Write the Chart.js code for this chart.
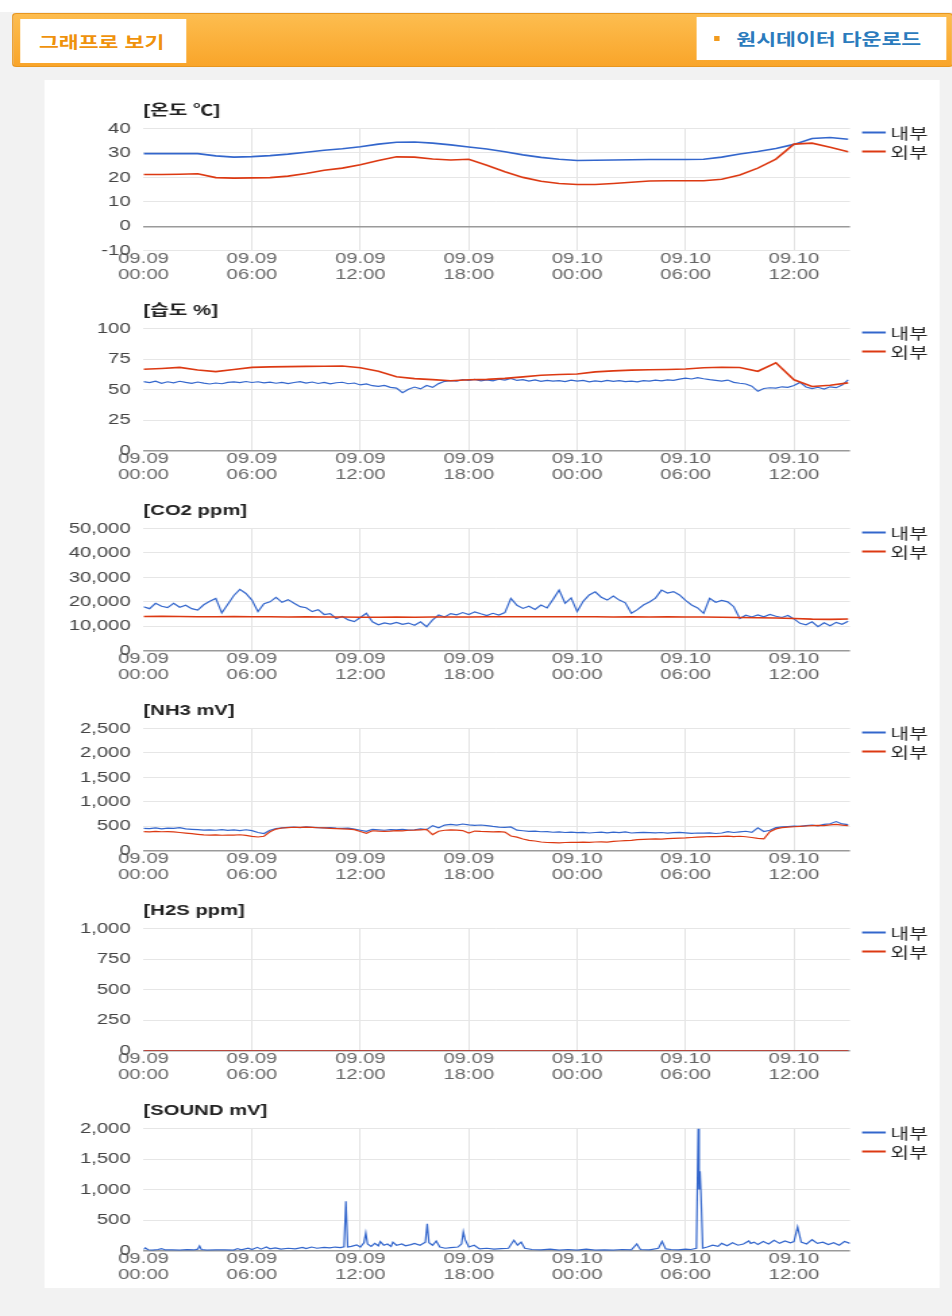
<!DOCTYPE html>
<html lang="ko">
<head>
<meta charset="utf-8">
<title>축사 환경 그래프</title>
<script src="https://cdn.jsdelivr.net/npm/chart.js@4.4.1/dist/chart.umd.min.js"></script>
<style>
  html, body { margin: 0; padding: 0; }
  body { width: 952px; height: 1316px; background: #f2f2f2; overflow: hidden;
         font-family: 'Liberation Sans', Arial, 'Noto Sans CJK KR', sans-serif; }
  /* the whole sheet is laid out narrow and widened horizontally */
  #page { position: absolute; left: 0; top: 0; width: 705.2px; height: 1316px;
          transform: scaleX(1.35); transform-origin: 0 0; }
  .topstrip { position: absolute; left: 0; top: 0; width: 100%; height: 12px; background: #fff; }
  .bar { position: absolute; left: 8.9px; top: 13px; width: 697px; height: 54px; box-sizing: border-box;
         background: linear-gradient(#fdbd4f, #f9a52a); border: 1px solid #e8961f; border-radius: 3px; }
  .tab { position: absolute; background: #fff; font-weight: bold; font-size: 16px; box-sizing: border-box;
         white-space: nowrap; font-family: 'Noto Sans CJK KR', sans-serif; }
  .tab.left { left: 5px; top: 5px; width: 123px; height: 44px; line-height: 44px; padding-left: 14px; color: #ef920c; }
  .tab.right { left: 506.5px; top: 3px; width: 185px; height: 43px; line-height: 43px; padding-left: 29px; color: #2b7bbd; }
  .bullet { position: absolute; left: 13px; top: 19px; width: 4px; height: 5px; background: #f29b1d; }
  .panel { position: absolute; left: 32.6px; top: 80px; width: 663.7px; height: 1208px; background: #fff; }
  canvas.chart { position: absolute; left: 33px; }
</style>
</head>
<body>
<div id="page">
  <div class="topstrip"></div>
  <div class="bar">
    <div class="tab left">그래프로 보기</div>
    <div class="tab right"><span class="bullet"></span>원시데이터 다운로드</div>
  </div>
  <div class="panel"></div>
  <canvas class="chart" id="chartTemp" width="664" height="200" style="top:88px"></canvas>
  <canvas class="chart" id="chartHum" width="664" height="200" style="top:288px"></canvas>
  <canvas class="chart" id="chartCo2" width="664" height="200" style="top:488px"></canvas>
  <canvas class="chart" id="chartNh3" width="664" height="200" style="top:688px"></canvas>
  <canvas class="chart" id="chartH2s" width="664" height="200" style="top:888px"></canvas>
  <canvas class="chart" id="chartSound" width="664" height="200" style="top:1088px"></canvas>
</div>

<script>
// ---- time axis (hours since 09.09 00:00) ----
const X_MAX_H = 39.1;
const TIME_TICKS = [0, 6, 12, 18, 24, 30, 36];
const TIME_TICK_LABELS = [
  ['09.09', '00:00'], ['09.09', '06:00'], ['09.09', '12:00'], ['09.09', '18:00'],
  ['09.10', '00:00'], ['09.10', '06:00'], ['09.10', '12:00']
];
const HOURLY_STEP_H = 1;      // one reading per hour
const FINE_STEP_H = 1 / 3;    // one reading every 20 minutes

const SERIES_NAMES = ['내부', '외부'];
const LINE_COLORS = ['#3366cc', '#dc3912'];

// ---- temperature (℃), hourly ----
const TEMP_IN = [29.7, 29.7, 29.8, 29.7, 28.8, 28.3, 28.5, 28.9, 29.5, 30.3,
                 31.1, 31.7, 32.5, 33.6, 34.4, 34.5, 34.0, 33.3, 32.4, 31.6,
                 30.5, 29.2, 28.2, 27.4, 26.9, 27.0, 27.1, 27.2, 27.3, 27.3,
                 27.3, 27.4, 28.3, 29.6, 30.6, 31.8, 33.5, 35.9, 36.3, 35.6];
const TEMP_OUT = [21.2, 21.2, 21.3, 21.5, 19.9, 19.7, 19.8, 19.9, 20.5, 21.6,
                  22.9, 23.8, 25.2, 26.9, 28.4, 28.3, 27.5, 27.1, 27.4, 25.0,
                  22.3, 20.0, 18.4, 17.5, 17.1, 17.1, 17.5, 18.0, 18.5, 18.6,
                  18.6, 18.6, 19.2, 21.0, 23.8, 27.5, 33.6, 34.0, 32.3, 30.5];

// ---- humidity (%) ----
const HUM_IN = [ // 20-minute readings
  56.5, 55.8, 56.9, 55.2, 56.4, 55.6, 56.8, 55.9, 55.1, 56.2, 55.3, 54.6,
  55.4, 54.8, 55.9, 56.3, 55.7, 56.6, 55.8, 56.4, 55.5, 56.1, 55.2, 55.9,
  54.9, 55.8, 56.5, 55.3, 56.2, 55.0, 55.9, 54.7, 55.6, 56.0, 54.8, 55.4,
  53.8, 54.6, 53.2, 52.6, 53.4, 51.8, 51.2, 47.4, 50.3, 52.1, 50.6, 53.4,
  51.8, 54.9, 56.8, 57.4, 56.9, 58.1, 57.6, 58.3, 57.2, 58.0, 57.1, 58.6,
  57.8, 59.1, 57.5, 58.2, 57.0, 57.9, 56.8, 57.6, 56.9, 57.4, 56.6, 57.8,
  56.9, 57.5, 56.4, 57.2, 56.5, 57.6, 56.8, 57.3, 56.6, 57.0, 56.3, 57.4,
  56.9, 57.7, 57.1, 58.0, 57.5, 58.6, 59.4, 58.7, 59.8, 58.9, 58.2, 57.6,
  56.9, 57.8, 55.9, 55.2, 54.6, 52.8, 48.6, 50.9, 51.5, 51.2, 52.3, 51.8,
  53.4, 55.9, 52.1, 50.8, 51.9, 50.5, 52.3, 51.6, 53.8, 57.9];
const HUM_OUT = [66.6, 67.3, 68.2, 66.0, 64.7, 66.5, 68.2, 68.6, 68.8, 69.0,
                 69.1, 69.3, 67.9, 65.0, 60.5, 59.0, 58.2, 57.3, 58.0, 58.4,
                 59.2, 60.4, 61.8, 62.3, 62.8, 64.5, 65.3, 65.9, 66.2, 66.4,
                 66.8, 67.9, 68.3, 68.1, 65.0, 72.0, 58.0, 52.5, 53.5, 55.5];

// ---- CO2 (ppm) ----
const CO2_IN = [ // 20-minute readings
  18000, 17200, 19400, 18200, 17600, 19400, 17800, 18600, 17200, 16600, 18800, 20200,
  21400, 15500, 19000, 22600, 25100, 23400, 20700, 16000, 19200, 20000, 21800, 19800,
  20900, 19400, 18000, 17600, 16000, 16800, 14800, 15200, 13200, 14000, 12600, 11900,
  13600, 15300, 11800, 10600, 11400, 10900, 11600, 10800, 11300, 10400, 11800, 9800,
  12600, 14600, 13800, 15200, 14700, 15600, 14800, 15900, 15100, 14400, 15300, 14600,
  15600, 21400, 18600, 17300, 18200, 16900, 18700, 17500, 21000, 24800, 19400, 21600,
  16000, 20200, 22800, 24100, 21900, 20700, 22400, 20700, 19600, 15300, 16800, 18700,
  19900, 21500, 24800, 23600, 24200, 22800, 20600, 18700, 17500, 15300, 21400, 19800,
  20600, 20000, 18000, 13200, 14500, 13800, 14600, 13900, 14800, 14100, 13600, 14400,
  13000, 11200, 10600, 11800, 9800, 11400, 10200, 11600, 10800, 12000];
const CO2_OUT = [14000, 14100, 14000, 13900, 13900, 14000, 13900, 13900, 13800, 13900,
                 13800, 13800, 13700, 13700, 13800, 13700, 13800, 13800, 13800, 13900,
                 13900, 13900, 13900, 13900, 13900, 13900, 13800, 13900, 13800, 13900,
                 13800, 13800, 13700, 13600, 13500, 13400, 13200, 12900, 12800, 13000];

// ---- NH3 (mV), 20-minute readings ----
const NH3_IN = [
  458, 452, 466, 448, 460, 455, 470, 446, 438, 432, 421, 426,
  418, 430, 415, 424, 412, 428, 410, 372, 352, 418, 452, 468,
  476, 482, 474, 486, 479, 472, 468, 474, 462, 455, 461, 440,
  418, 395, 436, 428, 418, 432, 425, 436, 420, 428, 445, 432,
  512, 468, 524, 538, 522, 546, 530, 518, 526, 512, 496, 484,
  478, 486, 420, 408, 395, 402, 388, 392, 378, 385, 372, 380,
  368, 374, 362, 372, 378, 365, 380, 370, 384, 362, 368, 375,
  370, 364, 372, 360, 368, 374, 365, 356, 362, 358, 366, 352,
  362, 388, 372, 384, 398, 376, 468, 392, 418, 472, 486, 495,
  502, 498, 512, 526, 508, 538, 552, 596, 548, 535];
const NH3_OUT = [
  392, 386, 395, 388, 392, 384, 372, 360, 348, 334, 322, 318,
  325, 316, 321, 318, 326, 314, 292, 280, 296, 388, 442, 465,
  472, 480, 476, 482, 478, 470, 466, 458, 452, 448, 442, 430,
  392, 356, 408, 400, 395, 402, 412, 405, 418, 420, 428, 435,
  330, 398, 418, 428, 420, 412, 362, 402, 395, 392, 386, 390,
  380, 300, 278, 240, 212, 198, 178, 168, 165, 162, 168, 170,
  172, 176, 170, 178, 182, 176, 190, 198, 205, 212, 225, 232,
  238, 242, 236, 248, 252, 258, 262, 270, 278, 284, 290, 286,
  292, 298, 288, 296, 286, 270, 252, 242, 388, 446, 472, 482,
  490, 498, 505, 512, 520, 515, 528, 540, 522, 512];

// ---- H2S (ppm), hourly ----
const H2S_IN = [0, 0, 0, 0, 0, 0, 0, 0, 0, 0, 0, 0, 0, 0, 0, 0, 0, 0, 0, 0,
                0, 0, 0, 0, 0, 0, 0, 0, 0, 0, 0, 0, 0, 0, 0, 0, 0, 0, 0, 0];
const H2S_OUT = [0, 0, 0, 0, 0, 0, 0, 0, 0, 0, 0, 0, 0, 0, 0, 0, 0, 0, 0, 0,
                 0, 0, 0, 0, 0, 0, 0, 0, 0, 0, 0, 0, 0, 0, 0, 0, 0, 0, 0, 0];

// ---- SOUND (mV), irregular readings ----
const SOUND_T = [
  0, 0.1, 0.25, 0.5, 0.8, 1.0, 1.2, 1.6, 2.0, 2.4, 2.8, 3.0, 3.1, 3.2, 3.5, 4.0, 4.5, 5.0, 5.2, 5.4,
  5.8, 6.0, 6.3, 6.5, 6.8, 7.0, 7.3, 7.6, 8.0, 8.4, 8.8, 9.0, 9.3, 9.6, 10.0, 10.3, 10.6, 10.9, 11.1, 11.2,
  11.3, 11.5, 11.8, 12.0, 12.2, 12.3, 12.4, 12.6, 12.8, 13.0, 13.1, 13.3, 13.5, 13.7, 13.8, 14.0, 14.3, 14.5, 14.8, 15.0,
  15.3, 15.6, 15.7, 15.8, 16.0, 16.2, 16.4, 16.7, 17.0, 17.4, 17.6, 17.7, 17.8, 18.0, 18.3, 18.6, 19.0, 19.4, 19.8, 20.2,
  20.5, 20.7, 20.9, 21.1, 21.5, 22.0, 22.5, 23.0, 23.5, 24.0, 24.5, 25.0, 25.5, 26.0, 26.5, 27.0, 27.3, 27.5, 28.0, 28.5,
  28.7, 28.9, 29.2, 29.6, 30.0, 30.3, 30.6, 30.7, 30.75, 30.8, 30.85, 30.95, 31.2, 31.5, 31.8, 32.0, 32.3, 32.6, 32.9, 33.2,
  33.5, 33.6, 33.8, 34.0, 34.3, 34.6, 34.9, 35.2, 35.5, 35.8, 36.0, 36.2, 36.4, 36.7, 37.0, 37.3, 37.6, 37.9, 38.2, 38.5,
  38.8, 39.1];
const SOUND_IN = [
  20, 45, 15, 10, 20, 35, 12, 15, 10, 18, 12, 25, 80, 20, 10, 12, 15, 10, 35, 15,
  40, 20, 55, 25, 60, 30, 45, 25, 40, 30, 55, 35, 60, 40, 55, 45, 60, 50, 65, 810,
  60, 70, 95, 60, 130, 290, 110, 70, 120, 80, 150, 90, 110, 70, 140, 90, 110, 80, 100, 120,
  90, 140, 440, 130, 90, 160, 60, 40, 50, 60, 110, 310, 180, 60, 90, 30, 40, 25, 35, 40,
  170, 90, 140, 40, 20, 15, 25, 10, 20, 10, 25, 10, 15, 10, 20, 15, 110, 20, 15, 40,
  150, 30, 20, 15, 25, 20, 40, 2000, 1000, 1300, 950, 40, 60, 90, 70, 120, 80, 130, 90, 110,
  160, 120, 140, 100, 150, 110, 170, 120, 160, 130, 150, 390, 140, 110, 180, 120, 140, 100, 130, 90,
  150, 120];
const SOUND_OUT = [];

// ---- helpers that turn readings into points ----
function stepPoints(values, stepH) {
  return values.map((v, i) => ({ x: i * stepH, y: v }));
}
function timedPoints(times, values) {
  return times.map((t, i) => ({ x: t, y: values[i] }));
}

// ---- legend drawn at the right of the plot ----
const sideLegend = {
  id: 'sideLegend',
  afterDraw(chart) {
    const { ctx, chartArea } = chart;
    ctx.save();
    chart.data.datasets.forEach((ds, i) => {
      const y = chartArea.top + 4 + i * 19;
      const x0 = chartArea.right + 9;
      ctx.strokeStyle = ds.borderColor;
      ctx.lineWidth = 2;
      ctx.beginPath();
      ctx.moveTo(x0, y);
      ctx.lineTo(x0 + 17.5, y);
      ctx.stroke();
      ctx.fillStyle = '#222';
      ctx.font = "15px 'Noto Sans CJK KR', sans-serif";
      ctx.textBaseline = 'middle';
      ctx.textAlign = 'left';
      ctx.fillText(ds.label, x0 + 21, y + 1);
    });
    ctx.restore();
  }
};

Chart.defaults.font.family = "'Liberation Sans', Arial, 'Noto Sans CJK KR', sans-serif";

function makeChart(canvasId, title, yMin, yMax, yStep, series) {
  const datasets = series.map((s, i) => ({
    label: SERIES_NAMES[i],
    data: s.points,
    borderColor: LINE_COLORS[i],
    backgroundColor: LINE_COLORS[i],
    borderWidth: s.width,
    pointRadius: 0,
    pointHoverRadius: 0,
    tension: 0,
    fill: false,
    order: 2 - i
  }));
  return new Chart(document.getElementById(canvasId), {
    type: 'line',
    data: { datasets },
    options: {
      responsive: false,
      animation: false,
      devicePixelRatio: 1,
      layout: { padding: { left: 0, right: 67.4, top: 0, bottom: 0 } },
      plugins: {
        legend: { display: false },
        tooltip: { enabled: false },
        title: {
          display: true, text: title, align: 'start', fullSize: false, color: '#222',
          font: { size: 15, weight: 'bold', lineHeight: 1.2 },
          padding: { top: 13.7, bottom: 8.8 }
        }
      },
      scales: {
        x: {
          type: 'linear', min: 0, max: X_MAX_H,
          afterBuildTicks: (scale) => { scale.ticks = TIME_TICKS.map(v => ({ value: v })); },
          afterFit: (scale) => { scale.height = 37.3; },
          border: { display: false },
          grid: {
            drawTicks: false,
            color: (c) => (c.tick && c.tick.value === 0) ? 'rgba(0,0,0,0)' : '#e3e3e3'
          },
          ticks: {
            autoSkip: false, maxRotation: 0, padding: 0, color: '#666',
            font: { size: 15, lineHeight: 16 / 15 },
            callback: (v, idx) => TIME_TICK_LABELS[idx]
          }
        },
        y: {
          min: yMin, max: yMax,
          afterFit: (scale) => { scale.width = 73.3; },
          border: { display: false },
          grid: {
            drawTicks: false,
            color: (c) => (c.tick && c.tick.value === 0) ? '#9a9a9a' : '#e6e6e6',
            lineWidth: (c) => (c.tick && c.tick.value === 0) ? 1.5 : 1
          },
          ticks: {
            stepSize: yStep, padding: 9.5, color: '#444', font: { size: 15 },
            callback: (v) => Number(v).toLocaleString('en-US')
          }
        }
      }
    },
    plugins: [sideLegend]
  });
}

makeChart('chartTemp', '[온도 ℃]', -10, 40, 10, [
  { points: stepPoints(TEMP_IN, HOURLY_STEP_H), width: 1.6 },
  { points: stepPoints(TEMP_OUT, HOURLY_STEP_H), width: 1.6 }
]);
makeChart('chartHum', '[습도 %]', 0, 100, 25, [
  { points: stepPoints(HUM_IN, FINE_STEP_H), width: 1.2 },
  { points: stepPoints(HUM_OUT, HOURLY_STEP_H), width: 1.6 }
]);
makeChart('chartCo2', '[CO2 ppm]', 0, 50000, 10000, [
  { points: stepPoints(CO2_IN, FINE_STEP_H), width: 1.2 },
  { points: stepPoints(CO2_OUT, HOURLY_STEP_H), width: 1.6 }
]);
makeChart('chartNh3', '[NH3 mV]', 0, 2500, 500, [
  { points: stepPoints(NH3_IN, FINE_STEP_H), width: 1.2 },
  { points: stepPoints(NH3_OUT, FINE_STEP_H), width: 1.2 }
]);
makeChart('chartH2s', '[H2S ppm]', 0, 1000, 250, [
  { points: stepPoints(H2S_IN, HOURLY_STEP_H), width: 1.6 },
  { points: stepPoints(H2S_OUT, HOURLY_STEP_H), width: 1.6 }
]);
makeChart('chartSound', '[SOUND mV]', 0, 2000, 500, [
  { points: timedPoints(SOUND_T, SOUND_IN), width: 1.2 },
  { points: SOUND_OUT, width: 1.6 }
]);
</script>
</body>
</html>
